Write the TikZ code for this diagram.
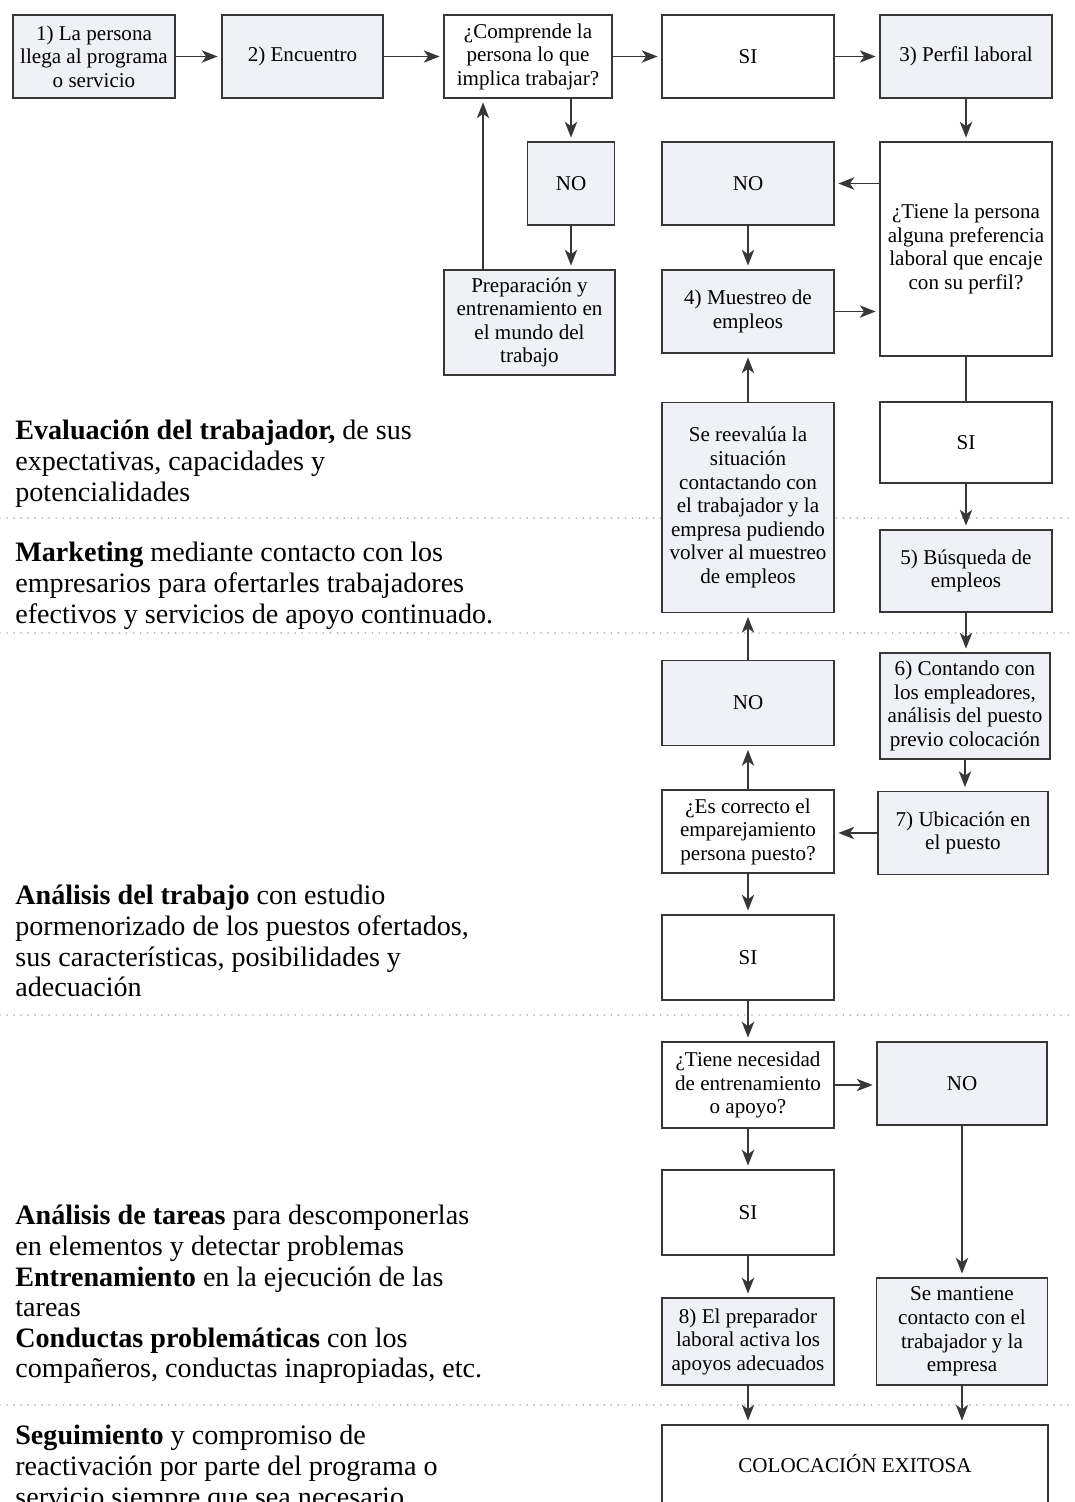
\documentclass[tikz,border=0pt]{standalone}
\usepackage{fontspec}
\setmainfont{Liberation Serif}
\usetikzlibrary{arrows.meta}
\definecolor{relleno}{RGB}{239,241,246}
\definecolor{borde}{RGB}{55,55,55}

\tikzset{
  caja/.style={draw=borde, line width=1pt, fill=white, minimum width=3.44cm,
    minimum height=1.66cm, align=center, inner sep=1pt,
    font=\fontsize{12}{13.4}\selectfont},
  gris/.style={caja, fill=relleno},
  flecha/.style={-{Stealth[length=9pt,width=7pt,inset=2.5pt]}, line width=1pt, draw=borde, shorten >=2pt},
  linea/.style={line width=1pt, draw=borde},
  puntos/.style={draw=black!30, line width=1.1pt, line cap=round, dash pattern=on 0pt off 4pt},
  lado/.style={anchor=north west, inner sep=0pt, align=left, font=\fontsize{16}{17.4}\selectfont}
}

\begin{document}
\begin{tikzpicture}[x=0.02cm, y=-0.02cm]
    \clip (0,0) rectangle (1075,1502);
    % Separadores
    \foreach \yy in {518,633,1015,1405}
        \draw[puntos] (0,\yy) -- (1075,\yy);
    % Fila superior
    \node[gris, minimum width=3.24cm] (paso1) at (94,56.5) {1) La persona\\llega al programa\\o servicio};
    \node[gris, minimum width=3.22cm] (paso2) at (302.5,56.5) {2) Encuentro};
    \node[caja, minimum width=3.36cm] (comprende) at (528,56.5) {¿Comprende la\\persona lo que\\implica trabajar?};
    \node[caja] (si1) at (748,56.5) {SI};
    \node[gris] (perfil) at (966,56.5) {3) Perfil laboral};
    % Segunda zona
    \node[gris, minimum width=1.74cm] (no1) at (571,183.5) {NO};
    \node[gris] (no2) at (748,183.5) {NO};
    \node[caja, minimum height=4.28cm] (tiene) at (966,249) {¿Tiene la persona\\alguna preferencia\\laboral que encaje\\con su perfil?};
    \node[gris, minimum width=3.42cm, minimum height=2.1cm] (prepara) at (529.5,322.5) {Preparación y\\entrenamiento en\\el mundo del\\trabajo};
    \node[gris] (muestreo) at (748,311.5) {4) Muestreo de\\empleos};
    \node[caja, minimum height=1.62cm] (si2) at (966,442.5) {SI};
    \node[gris, minimum height=4.2cm] (reevalua) at (748,507.5) {Se reevalúa la\\situación\\contactando con\\el trabajador y la\\empresa pudiendo\\volver al muestreo\\de empleos};
    \node[gris, minimum height=1.64cm] (busqueda) at (966,571) {5) Búsqueda de\\empleos};
    \node[gris, minimum width=3.4cm, minimum height=2.12cm] (contando) at (965,706) {6) Contando con\\los empleadores,\\análisis del puesto\\previo colocación};
    \node[gris, minimum height=1.7cm] (no3) at (748,703) {NO};
    \node[gris, minimum width=3.4cm] (ubicacion) at (963,833) {7) Ubicación en\\el puesto};
    \node[caja] (correcto) at (748,831.5) {¿Es correcto el\\emparejamiento\\persona puesto?};
    % Zona inferior
    \node[caja, minimum height=1.7cm] (si3) at (748,957.5) {SI};
    \node[caja, minimum height=1.72cm] (necesidad) at (748,1085) {¿Tiene necesidad\\de entrenamiento\\o apoyo?};
    \node[gris, minimum width=3.4cm] (no4) at (962,1083.5) {NO};
    \node[caja, minimum height=1.7cm] (si4) at (748,1212.5) {SI};
    \node[gris, minimum height=1.74cm] (preparador) at (748,1341.5) {8) El preparador\\laboral activa los\\apoyos adecuados};
    \node[gris, minimum width=3.42cm, minimum height=2.14cm] (mantiene) at (962,1331.5) {Se mantiene\\contacto con el\\trabajador y la\\empresa};
    \node[caja, minimum width=7.72cm, minimum height=1.56cm] (colocacion) at (855,1464) {COLOCACIÓN EXITOSA};
    % Flechas
    \draw[flecha] (paso1) -- (paso2);
    \draw[flecha] (paso2) -- (comprende);
    \draw[flecha] (comprende) -- (si1);
    \draw[flecha] (si1) -- (perfil);
    \draw[flecha] (perfil) -- (tiene);
    \draw[flecha] (no1.north |- comprende.south) -- (no1.north);
    \draw[flecha] (no1.south) -- (no1.south |- prepara.north);
    \coordinate (vuelta) at ([xshift=-0.93cm]prepara.north);
    \draw[flecha] (vuelta) -- (vuelta |- comprende.south);
    \draw[flecha] (tiene.west |- no2.east) -- (no2.east);
    \draw[flecha] (no2) -- (muestreo);
    \draw[flecha] (muestreo.east) -- (muestreo.east -| tiene.west);
    \draw[linea] (tiene.south) -- (si2.north);
    \draw[flecha] (si2) -- (busqueda);
    \draw[flecha] (busqueda.south) -- (busqueda.south |- contando.north);
    \draw[flecha] (contando.south) -- (contando.south |- ubicacion.north);
    \draw[flecha] (ubicacion.west) -- (ubicacion.west -| correcto.east);
    \draw[flecha] (correcto) -- (no3);
    \draw[flecha] (no3) -- (reevalua);
    \draw[flecha] (reevalua) -- (muestreo);
    \draw[flecha] (correcto) -- (si3);
    \draw[flecha] (si3) -- (necesidad);
    \draw[flecha] (necesidad.east) -- (necesidad.east -| no4.west);
    \draw[flecha] (necesidad) -- (si4);
    \draw[flecha] (si4) -- (preparador);
    \draw[flecha] (no4.south) -- (no4.south |- mantiene.north);
    \draw[flecha] (preparador.south) -- (preparador.south |- colocacion.north);
    \draw[flecha] (mantiene.south) -- (mantiene.south |- colocacion.north);
    % Textos laterales
    \node[lado] (evaluacion) at (15,420) {\textbf{Evaluación del trabajador,} de sus\\expectativas, capacidades y\\potencialidades};
    \node[lado] (marketing) at (15,542) {\textbf{Marketing} mediante contacto con los\\empresarios para ofertarles trabajadores\\efectivos y servicios de apoyo continuado.};
    \node[lado] (analisis) at (15,885) {\textbf{Análisis del trabajo} con estudio\\pormenorizado de los puestos ofertados,\\sus características, posibilidades y\\adecuación};
    \node[lado] (tareas) at (15,1205) {\textbf{Análisis de tareas} para descomponerlas\\en elementos y detectar problemas\\\textbf{Entrenamiento} en la ejecución de las\\tareas\\\textbf{Conductas problemáticas} con los\\compañeros, conductas inapropiadas, etc.};
    \node[lado] (seguimiento) at (15,1425) {\textbf{Seguimiento} y compromiso de\\reactivación por parte del programa o\\servicio siempre que sea necesario.};
\end{tikzpicture}
\end{document}
